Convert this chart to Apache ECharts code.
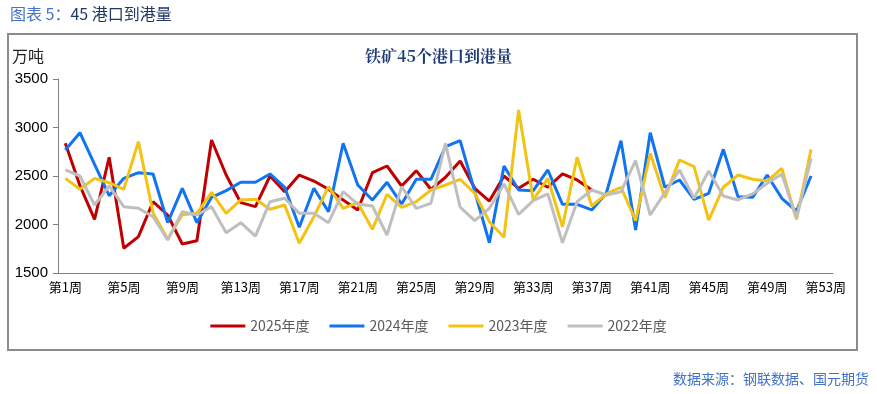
<!DOCTYPE html>
<html>
<head>
<meta charset="utf-8">
<script src="https://cdn.jsdelivr.net/npm/echarts@6/dist/echarts.min.js"></script>
<style>html,body{margin:0;padding:0;background:#fff;}#c{width:877px;height:394px;}</style>
</head>
<body>
<div id="c"></div>
<script>
var weeks = [];
for (var i = 1; i <= 53; i++) weeks.push('第' + i + '周');
var seriesNames = ['2025年度', '2024年度', '2023年度', '2022年度'];
var y2025 = [2837,2400,2053,2693,1755,1875,2235,2098,1799,1833,2871,2510,2225,2184,2500,2338,2510,2448,2363,2253,2150,2534,2603,2397,2555,2363,2487,2655,2373,2242,2500,2373,2466,2384,2521,2459,2356];
var y2024 = [2768,2946,2620,2297,2476,2534,2521,2019,2373,2019,2280,2349,2435,2435,2521,2384,1971,2373,2132,2837,2407,2253,2435,2211,2466,2466,2802,2864,2340,1812,2603,2356,2349,2562,2208,2208,2150,2322,2864,1943,2946,2384,2459,2260,2322,2775,2287,2280,2510,2270,2139,2500];
var y2023 = [2476,2363,2476,2431,2363,2854,2120,1850,2100,2115,2332,2115,2253,2260,2157,2201,1806,2080,2390,2167,2225,1950,2311,2177,2235,2356,2407,2466,2322,2029,1868,3181,2253,2476,1977,2693,2191,2315,2384,2039,2734,2277,2665,2596,2046,2384,2510,2466,2448,2579,2053,2775];
var y2022 = [2562,2500,2201,2397,2184,2167,2080,1840,2132,2098,2184,1916,2019,1881,2235,2270,2115,2115,2019,2338,2211,2191,1892,2390,2167,2218,2837,2180,2039,2167,2418,2105,2246,2315,1812,2235,2356,2304,2338,2658,2098,2328,2562,2270,2552,2294,2253,2315,2425,2521,2063,2682];
var colors = ['#C00000', '#1274F0', '#F2C314', '#BFBFBF'];
var dataList = [y2025, y2024, y2023, y2022];

var chart = echarts.init(document.getElementById('c'));
var series = seriesNames.map(function (n, k) {
  return {
    name: n, type: 'line', data: dataList[k], symbol: 'none', smooth: false,
    lineStyle: { width: 3, color: colors[k] }, itemStyle: { color: colors[k] }
  };
});
chart.setOption({
  animation: false,
  backgroundColor: '#fff',
  color: colors,
  grid: { left: 58, right: 44, top: 79, bottom: 121 },
  graphic: [
    { type: 'rect', shape: { x: 8, y: 34, width: 849, height: 316 }, style: { fill: 'none', stroke: '#8c8c8c', lineWidth: 2 }, z: 0 },
    { type: 'text', left: 10, top: 6, style: { text: '{a|图表 5：}{b|45 港口到港量}', rich: { a: { fill: '#4472C4', fontSize: 16, fontFamily: 'Noto Sans CJK SC' }, b: { fill: '#1F3864', fontSize: 16, fontFamily: 'Noto Sans CJK SC' } } } },
    { type: 'text', left: 12, top: 48, style: { text: '万吨', fill: '#222', fontSize: 16, fontFamily: 'Noto Sans CJK SC' } },
    { type: 'text', left: 'center', top: 48, style: { text: '铁矿45个港口到港量', fill: '#1F3C7A', fontSize: 16, fontWeight: 'bold', fontFamily: 'Noto Serif CJK SC, Noto Sans CJK SC, serif' } },
    { type: 'text', right: 8, top: 372, style: { text: '数据来源：钢联数据、国元期货', fill: '#4472C4', fontSize: 14, fontFamily: 'Noto Sans CJK SC' } }
  ],
  legend: {
    bottom: 56, left: 'center',
    data: seriesNames,
    icon: 'rect', itemWidth: 35, itemHeight: 3, itemGap: 20,
    textStyle: { color: '#595959', fontSize: 14, fontFamily: 'Noto Sans CJK SC' }
  },
  xAxis: {
    type: 'category', data: weeks, boundaryGap: true,
    axisLine: { lineStyle: { color: '#808080', width: 1 } },
    axisTick: { interval: 0, length: 5, lineStyle: { color: '#808080' } },
    axisLabel: { interval: 3, color: '#000', fontSize: 13, margin: 8, fontFamily: 'Noto Sans CJK SC' }
  },
  yAxis: {
    type: 'value', min: 1500, max: 3500, interval: 500,
    axisLine: { show: true, lineStyle: { color: '#808080', width: 1 } },
    axisTick: { show: true, length: 5, lineStyle: { color: '#808080' } },
    splitLine: { show: false },
    axisLabel: { color: '#000', fontSize: 15, margin: 10, fontFamily: 'Liberation Sans, Arial', formatter: function (v) { return String(v); } }
  },
  series: series
});
</script>
</body>
</html>
